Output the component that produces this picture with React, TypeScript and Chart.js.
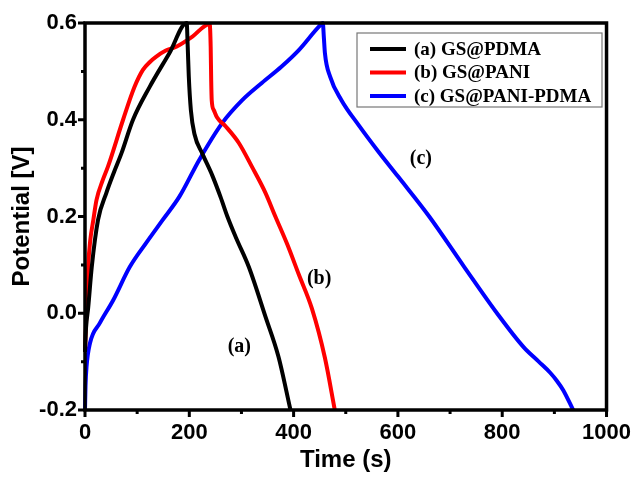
import React, { useEffect, useRef } from 'react';
import { Chart, registerables } from 'chart.js';

Chart.register(...registerables);

// Galvanostatic charge/discharge curves: time (s) vs potential (V)
const timeA = [0, 2, 6, 13, 25, 41, 55, 70, 92, 124, 162, 195, 197, 199, 203, 210, 225, 244, 260, 273, 290, 314, 346, 371, 394];
const potA = [-0.08, -0.03, 0.01, 0.096, 0.193, 0.249, 0.29, 0.331, 0.4, 0.468, 0.538, 0.6, 0.55, 0.49, 0.42, 0.37, 0.33, 0.285, 0.24, 0.2, 0.155, 0.096, -0.007, -0.09, -0.2];

const timeB = [0, 2, 6, 10, 16, 22, 34, 44, 73, 95, 111, 125, 136, 155, 175, 206, 239, 241, 242, 243, 247, 253, 270, 295, 320, 346, 365, 388, 410, 435, 460, 479];
const potB = [-0.08, -0.02, 0.096, 0.15, 0.193, 0.234, 0.275, 0.303, 0.4, 0.468, 0.503, 0.52, 0.53, 0.543, 0.551, 0.572, 0.598, 0.55, 0.48, 0.44, 0.42, 0.405, 0.386, 0.352, 0.303, 0.249, 0.2, 0.142, 0.08, 0.01, -0.092, -0.2];

const timeC = [0, 1, 3, 9.5, 28.6, 54, 86, 117, 149, 181, 219, 263, 301, 339, 377, 410, 448, 456, 458, 460, 470, 492, 524, 562, 600, 660, 727, 790, 841, 870, 892, 905, 917, 936];
const potC = [-0.2, -0.15, -0.11, -0.062, -0.02, 0.027, 0.096, 0.145, 0.193, 0.241, 0.317, 0.393, 0.44, 0.476, 0.51, 0.544, 0.592, 0.6, 0.57, 0.538, 0.489, 0.44, 0.39, 0.335, 0.283, 0.2, 0.096, 0.0, -0.07, -0.1, -0.123, -0.14, -0.159, -0.2];

const seriesNames = ['(a) GS@PDMA', '(b) GS@PANI', '(c) GS@PANI-PDMA'];
const seriesColors = ['#000000', '#ff0000', '#0000ff'];

// Curve tags placed beside each curve (time, potential)
const tagText = ['(a)', '(b)', '(c)'];
const tagTime = [296, 449, 644];
const tagPot = [-0.07, 0.072, 0.32];

const xMajor = [0, 200, 400, 600, 800, 1000];
const xMinor = [100, 300, 500, 700, 900];
const yMajor = [-0.2, 0.0, 0.2, 0.4, 0.6];
const yMinor = [-0.1, 0.1, 0.3, 0.5];

const toPoints = (t: number[], v: number[]) => t.map((x, i) => ({ x, y: v[i] }));

const framePlugin = {
  id: 'frameAndDecor',
  afterDatasetsDraw(chart: any) {
    const { ctx, chartArea: a, scales } = chart;
    const xs = scales.x;
    const ys = scales.y;
    ctx.save();
    // frame
    ctx.strokeStyle = '#000';
    ctx.lineWidth = 3.5;
    ctx.strokeRect(a.left, a.top, a.right - a.left, a.bottom - a.top);

    // ticks (outward)
    ctx.lineWidth = 3;
    ctx.beginPath();
    xMajor.forEach((v) => {
      const px = xs.getPixelForValue(v);
      ctx.moveTo(px, a.bottom);
      ctx.lineTo(px, a.bottom + 7);
    });
    xMinor.forEach((v) => {
      const px = xs.getPixelForValue(v);
      ctx.moveTo(px, a.bottom);
      ctx.lineTo(px, a.bottom + 4);
    });
    yMajor.forEach((v) => {
      const py = ys.getPixelForValue(v);
      ctx.moveTo(a.left, py);
      ctx.lineTo(a.left - 7, py);
    });
    yMinor.forEach((v) => {
      const py = ys.getPixelForValue(v);
      ctx.moveTo(a.left, py);
      ctx.lineTo(a.left - 4, py);
    });
    ctx.stroke();

    // axis titles
    ctx.fillStyle = '#000';
    ctx.font = 'bold 24px "Liberation Sans", Arial, sans-serif';
    ctx.textAlign = 'center';
    ctx.textBaseline = 'middle';
    ctx.fillText('Time (s)', (a.left + a.right) / 2, 460);
    ctx.save();
    ctx.translate(22, (a.top + a.bottom) / 2);
    ctx.rotate(-Math.PI / 2);
    ctx.fillText('Potential [V]', 0, 0);
    ctx.restore();

    // curve tags
    ctx.font = 'bold 20px "Liberation Serif", "Times New Roman", serif';
    tagText.forEach((t, i) => {
      ctx.fillText(t, xs.getPixelForValue(tagTime[i]), ys.getPixelForValue(tagPot[i]));
    });

    // legend box
    const lx = 357;
    const ly = 33;
    const lw = 245;
    const lh = 74;
    ctx.fillStyle = '#fff';
    ctx.fillRect(lx, ly, lw, lh);
    ctx.strokeStyle = '#777';
    ctx.lineWidth = 1.2;
    ctx.strokeRect(lx, ly, lw, lh);
    ctx.font = 'bold 19px "Liberation Serif", "Times New Roman", serif';
    ctx.textAlign = 'left';
    chart.data.datasets.forEach((ds: any, i: number) => {
      const ry = 49 + i * 23.5;
      ctx.strokeStyle = ds.borderColor;
      ctx.lineWidth = 4;
      ctx.beginPath();
      ctx.moveTo(370, ry);
      ctx.lineTo(406, ry);
      ctx.stroke();
      ctx.fillStyle = '#000';
      ctx.fillText(ds.label, 414, ry + 1);
    });
    ctx.restore();
  },
};

export default function App() {
  const canvasRef = useRef<HTMLCanvasElement | null>(null);

  useEffect(() => {
    const canvas = canvasRef.current;
    if (!canvas) return;
    const series = [
      toPoints(timeA, potA),
      toPoints(timeB, potB),
      toPoints(timeC, potC),
    ];
    const chart = new Chart(canvas, {
      type: 'line',
      data: {
        datasets: series.map((pts, i) => ({
          label: seriesNames[i],
          data: pts,
          borderColor: seriesColors[i],
          backgroundColor: seriesColors[i],
          borderWidth: 4,
          pointRadius: 0,
          fill: false,
          cubicInterpolationMode: 'monotone' as const,
          clip: false as any,
        })),
      },
      options: {
        responsive: false,
        animation: false,
        events: [],
        layout: { padding: { left: 0, top: 23, right: 31, bottom: 0 } },
        plugins: {
          legend: { display: false },
          tooltip: { enabled: false },
        },
        scales: {
          x: {
            type: 'linear',
            min: 0,
            max: 1000,
            grid: { display: false, drawTicks: false },
            border: { display: false },
            ticks: {
              stepSize: 200,
              padding: 10,
              color: '#000',
              font: { family: '"Liberation Sans", Arial, sans-serif', size: 22, weight: 'bold' },
              callback: (v: any) => String(v),
              maxRotation: 0,
            },
            afterFit: (s: any) => {
              s.height = 67;
            },
          },
          y: {
            type: 'linear',
            min: -0.2,
            max: 0.6,
            grid: { display: false, drawTicks: false },
            border: { display: false },
            ticks: {
              stepSize: 0.2,
              padding: 8,
              color: '#000',
              font: { family: '"Liberation Sans", Arial, sans-serif', size: 22, weight: 'bold' },
              callback: (v: any) => Number(v).toFixed(1),
            },
            afterFit: (s: any) => {
              s.width = 85;
            },
          },
        },
      },
      plugins: [framePlugin],
    });
    return () => chart.destroy();
  }, []);

  return (
    <div style={{ position: 'absolute', left: 0, top: 0, width: 641, height: 477, background: '#fff' }}>
      <canvas ref={canvasRef} width={641} height={477} />
    </div>
  );
}
